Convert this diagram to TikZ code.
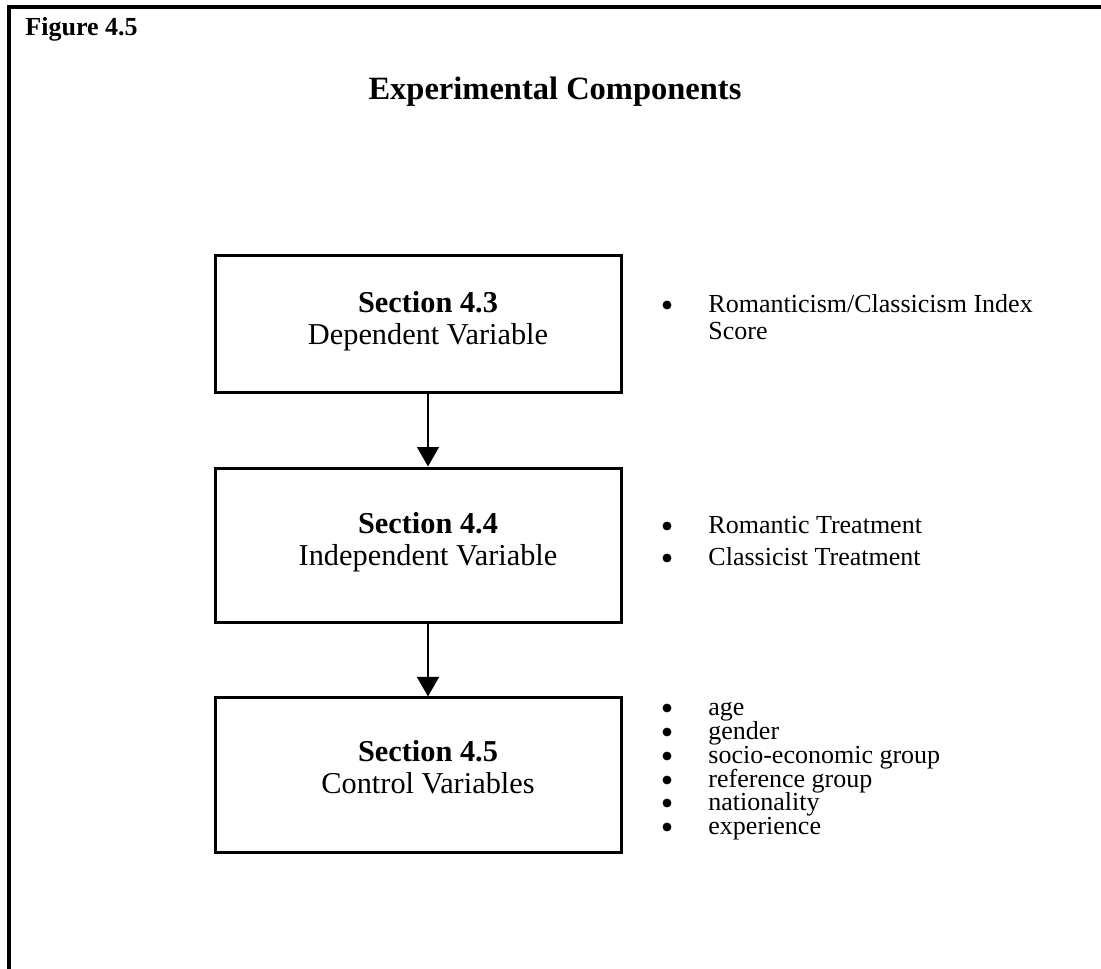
\documentclass[tikz,border=0pt]{standalone}
\usepackage{fontspec}
\setmainfont{Liberation Serif}
\usetikzlibrary{arrows.meta}
\begin{document}
\begin{tikzpicture}[x=0.4615pt,y=-0.4615pt,
  frameline/.style={line width=1.4pt},
  stagebox/.style={draw,line width=1.4pt,minimum width=187.8pt,inner sep=0pt},
  flow/.style={line width=1.2pt,-{Triangle[width=10pt,length=9pt]}},
  sechead/.style={font=\fontsize{14}{16}\selectfont\bfseries,anchor=base,inner sep=0pt},
  secsub/.style={font=\fontsize{14}{16}\selectfont,anchor=base,inner sep=0pt},
  itemtext/.style={font=\fontsize{12}{14}\selectfont,anchor=base west,inner sep=0pt},
  dot/.style={circle,fill,inner sep=0pt,minimum size=4.1pt}
]
\useasboundingbox (0,0) rectangle (1101,969);

% open frame: top rule and left rule
\draw[frameline] (9,969) -- (9,7) -- (1101,7);

\node[font=\fontsize{12}{14}\selectfont\bfseries,anchor=base west,inner sep=0pt] (fig) at (25,36) {Figure 4.5};
\node[font=\fontsize{15}{18}\selectfont\bfseries,anchor=base,inner sep=0pt] (title) at (555,100) {Experimental Components};

% the three stage boxes
\node[stagebox,minimum height=62.8pt] (b1) at (418.5,324) {};
\node[stagebox,minimum height=71.5pt] (b2) at (418.5,545.5) {};
\node[stagebox,minimum height=71.1pt] (b3) at (418.5,775) {};

\node[sechead] (h1) at (428,313) {Section 4.3};
\node[secsub]  (s1) at (428,345) {Dependent Variable};
\node[sechead] (h2) at (428,534) {Section 4.4};
\node[secsub]  (s2) at (428,566) {Independent Variable};
\node[sechead] (h3) at (428,762) {Section 4.5};
\node[secsub]  (s3) at (428,794) {Control Variables};

% connectors between the boxes
\draw[flow] (h1 |- b1.south) -- (h1 |- b2.north);
\draw[flow] (h2 |- b2.south) -- (h2 |- b3.north);

% bullet lists beside each box
\node[dot] (d11) at (667,305) {};
\node[itemtext] (i11) at (708,313) {Romanticism/Classicism Index};
\node[itemtext] (i12) at (708,340) {Score};

\node[dot] (d21) at (667,526) {};
\node[itemtext] (i21) at (708,534) {Romantic Treatment};
\node[dot] (d22) at (667,558) {};
\node[itemtext] (i22) at (708,566) {Classicist Treatment};

\node[dot] (d31) at (667,708) {};
\node[itemtext] (i31) at (708,716) {age};
\node[dot] (d32) at (667,732) {};
\node[itemtext] (i32) at (708,740) {gender};
\node[dot] (d33) at (667,756) {};
\node[itemtext] (i33) at (708,764) {socio-economic group};
\node[dot] (d34) at (667,780) {};
\node[itemtext] (i34) at (708,788) {reference group};
\node[dot] (d35) at (667,803) {};
\node[itemtext] (i35) at (708,811) {nationality};
\node[dot] (d36) at (667,827) {};
\node[itemtext] (i36) at (708,835) {experience};
\end{tikzpicture}
\end{document}
